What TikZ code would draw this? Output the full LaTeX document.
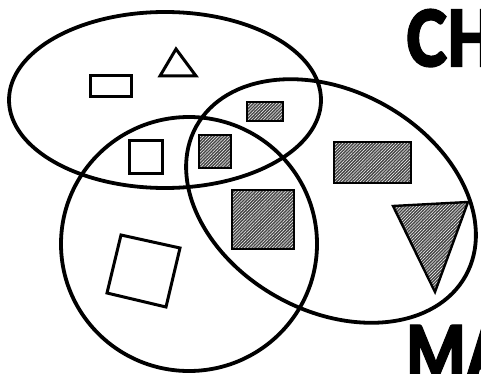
\documentclass[tikz,border=0pt]{standalone}
\usepackage{fontspec}
\newfontfamily\heavyfont{Lato Black}[FakeBold=1.6]
\usetikzlibrary{patterns.meta}
\tikzset{
  ring/.style={line width=3.8pt},
  outl/.style={line width=3pt, line join=miter},
  hatch/.style={line width=2.4pt, preaction={fill=black!72},
    pattern={Lines[angle=45,distance=2.2pt,line width=0.5pt]}, pattern color=white},
  bigtext/.style={inner sep=0pt, outer sep=0pt, xscale=0.8, font=\heavyfont\fontsize{78}{78}\selectfont, text=black}
}
\begin{document}
\begin{tikzpicture}[x=1pt,y=-1pt]
\useasboundingbox (0,0) rectangle (481,374);
\clip (0,0) rectangle (481,374);
\fill[white] (0,0) rectangle (481,374);
% ellipses
\draw[ring] (165,100) ellipse [x radius=156pt, y radius=88pt];
\draw[ring] (189,244) ellipse [x radius=128pt, y radius=127pt];
\draw[ring, rotate around={-29:(331,201)}] (331,201) ellipse [x radius=154pt, y radius=110pt];
% outline shapes
\draw[outl] (90,76) rectangle (131,97);
\draw[outl] (176,49) -- (196,76) -- (160,76) -- cycle;
\draw[outl] (129,141) rectangle (162,173);
\draw[outl] (121,235) -- (180,248) -- (166,307) -- (107,293) -- cycle;
% hatched shapes
\draw[hatch] (247,102) rectangle (283,121);
\draw[hatch] (199,135) rectangle (231,168);
\draw[hatch] (334,142) rectangle (411,183);
\draw[hatch] (232,190) rectangle (294,249);
\draw[hatch] (393,206) -- (468,202) -- (435,292) -- cycle;
% letters
\node[bigtext, anchor=north west] (ch) at (406,9) {CH};
\node[bigtext, anchor=north west] (ma) at (406,325) {MA};
\end{tikzpicture}
\end{document}
